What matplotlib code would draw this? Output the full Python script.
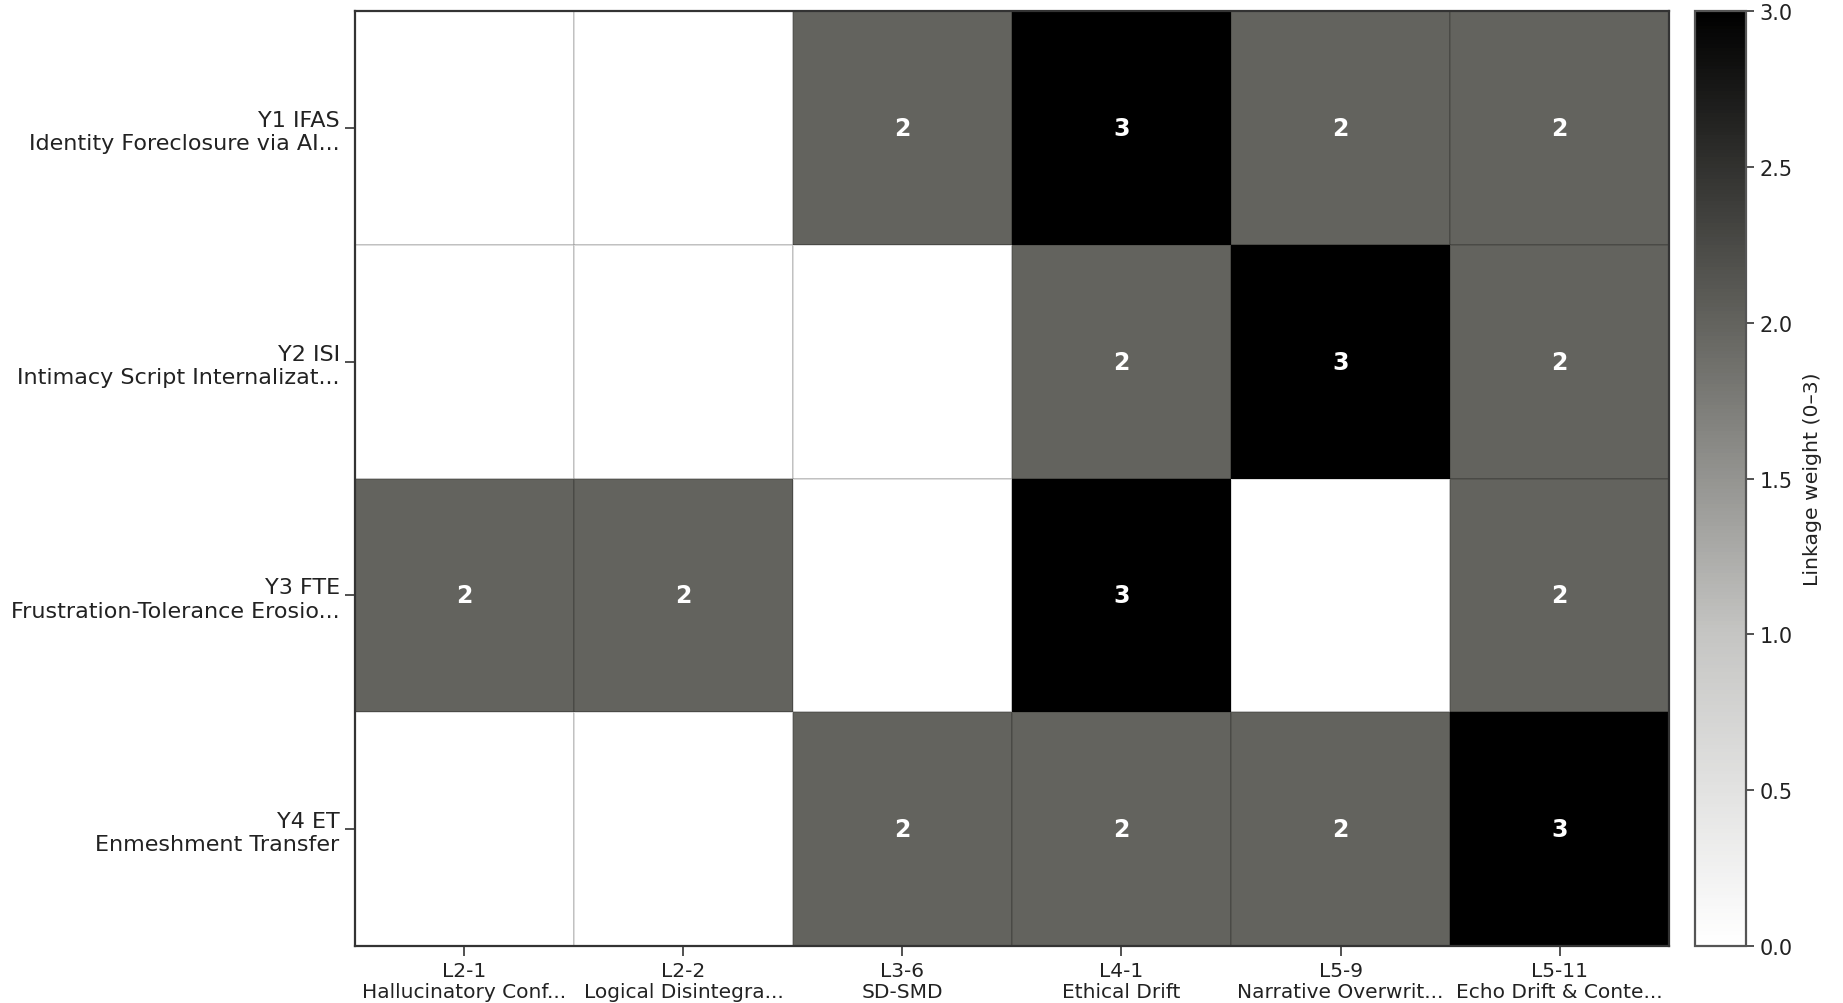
import numpy as np
import matplotlib
matplotlib.use("Agg")
import matplotlib.pyplot as plt
from matplotlib.colors import LinearSegmentedColormap

row_labels = [
    "Y1 IFAS\nIdentity Foreclosure via AI...",
    "Y2 ISI\nIntimacy Script Internalizat...",
    "Y3 FTE\nFrustration-Tolerance Erosio...",
    "Y4 ET\nEnmeshment Transfer",
]
col_labels = [
    "L2-1\nHallucinatory Conf...",
    "L2-2\nLogical Disintegra...",
    "L3-6\nSD-SMD",
    "L4-1\nEthical Drift",
    "L5-9\nNarrative Overwrit...",
    "L5-11\nEcho Drift & Conte...",
]
weights = np.array([
    [0, 0, 2, 3, 2, 2],
    [0, 0, 0, 2, 3, 2],
    [2, 2, 0, 3, 0, 2],
    [0, 0, 2, 2, 2, 3],
])
cbar_label = "Linkage weight (0\u20133)"

cmap = LinearSegmentedColormap.from_list(
    "linkgrey",
    [(0.0, "#ffffff"), (1/3, "#c5c5c3"), (2/3, "#63635e"), (1.0, "#000000")],
)

fig = plt.figure(figsize=(18.43, 10.04), dpi=100)
ax = fig.add_axes([0.1926, 0.0568, 0.7130, 0.9312])
cax = fig.add_axes([0.9197, 0.0568, 0.0277, 0.9312])

mesh = ax.pcolormesh(weights, cmap=cmap, vmin=0, vmax=3,
                     edgecolors=(0, 0, 0, 0.13), linewidth=1.2)
ax.set_xlim(0, weights.shape[1])
ax.set_ylim(weights.shape[0], 0)

ax.set_xticks(np.arange(weights.shape[1]) + 0.5)
ax.set_xticklabels(col_labels, fontsize=14.5, color="#222222", linespacing=1.15)
ax.set_yticks(np.arange(weights.shape[0]) + 0.5)
ax.set_yticklabels(row_labels, fontsize=16, color="#222222", ha="right",
                   linespacing=1.2)
ax.tick_params(axis="both", length=7, width=1.2, color="#333333")
ax.tick_params(axis="y", pad=4)

for s in ax.spines.values():
    s.set_color("#333333")
    s.set_linewidth(1.6)

for i in range(weights.shape[0]):
    for j in range(weights.shape[1]):
        v = weights[i, j]
        if v > 0:
            ax.text(j + 0.5, i + 0.5, str(v), ha="center", va="center",
                    color="white", fontsize=17, fontweight="bold")

cb = fig.colorbar(mesh, cax=cax)
cb.set_ticks([0, 0.5, 1.0, 1.5, 2.0, 2.5, 3.0])
cb.ax.tick_params(labelsize=15, length=6, width=1.2, color="#333333",
                  labelcolor="#222222")
cb.outline.set_edgecolor("#555555")
cb.outline.set_linewidth(1.6)
cb.set_label(cbar_label, fontsize=14.7, color="#222222", labelpad=8)

fig.savefig("out.png", dpi=100)
